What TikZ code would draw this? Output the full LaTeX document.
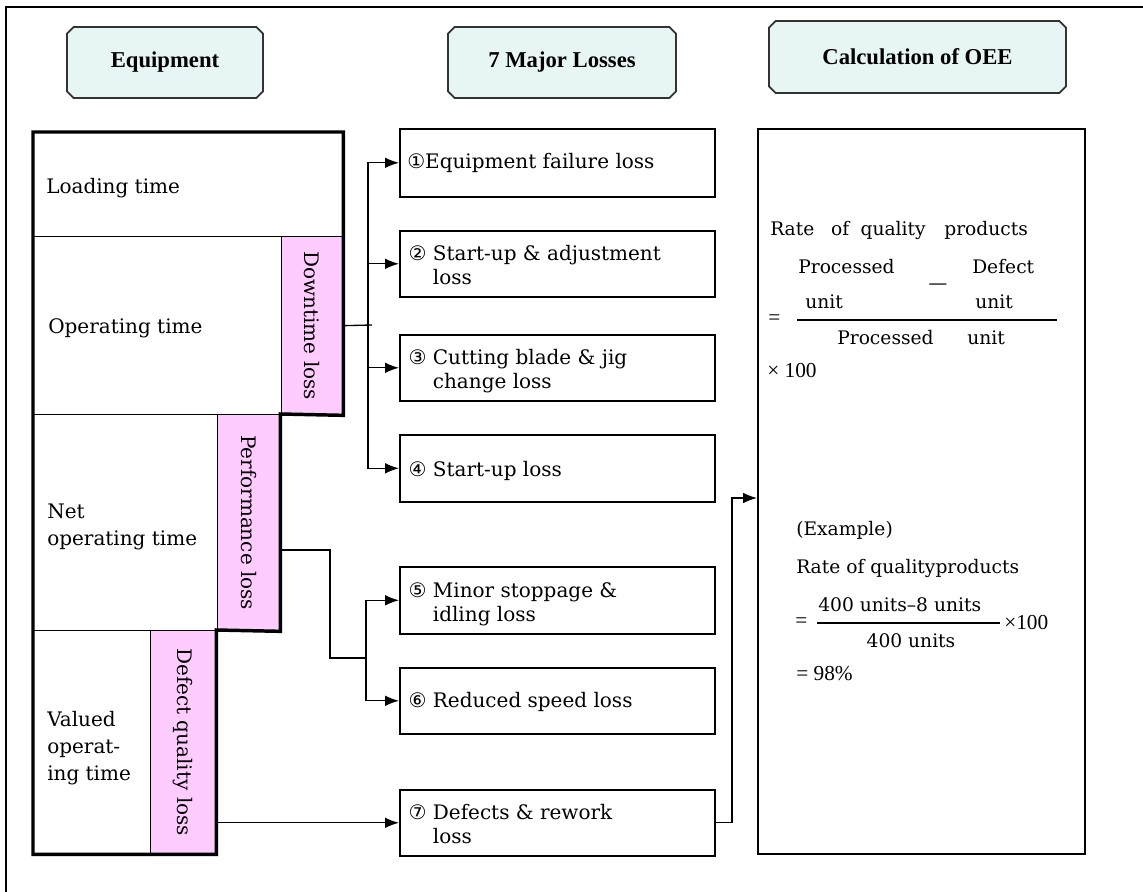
\documentclass[tikz,border=0pt]{standalone}
\usepackage{fontspec}
\setmainfont{DejaVu Serif}
\newfontfamily\headfont{Liberation Serif}
\newfontfamily\numfont{Liberation Serif}
\newfontfamily\circfont{DejaVu Sans}
\usepackage{tikz}
\usetikzlibrary{shapes,arrows,arrows.meta,positioning}
\definecolor{headfill}{RGB}{232,245,245}
\definecolor{losspink}{RGB}{255,204,255}
\newcommand{\pxu}{*0.75pt}
\newcommand{\lossitem}[3]{\begin{tabular}{@{}l@{\ }l@{}}{\circfont #1}&#2\\&#3\end{tabular}}
\newcommand{\lossline}[2]{{\circfont #1}\ #2}

\begin{document}
\begin{tikzpicture}[x=0.75pt,y=-0.75pt,
                >={Latex[length=10.5pt,width=8pt]},
                head/.style={chamfered rectangle,chamfered rectangle xsep=2.5pt,chamfered rectangle ysep=2.5pt,
                  draw=black!80,line width=1.3pt,fill=headfill,font=\headfont\bfseries\fontsize{17}{18}\selectfont},
                cell/.style={draw,line width=1pt,inner sep=0pt,anchor=north west},
                pinkcell/.style={cell,fill=losspink,font=\fontsize{15}{18}\selectfont},
                celltext/.style={anchor=west,inner sep=0pt,align=left,font=\fontsize{15}{20}\selectfont},
                lossbox/.style={draw,line width=1.2pt,inner sep=0pt,anchor=north west,minimum width=315\pxu,minimum height=66\pxu},
                losstext/.style={inner sep=0pt,font=\fontsize{15}{18}\selectfont},
                oeetext/.style={anchor=base west,inner sep=0pt,font=\fontsize{14}{17}\selectfont},
                numtext/.style={oeetext,font=\numfont\fontsize{16}{18}\selectfont},
                conn/.style={line width=1pt}]
  \useasboundingbox (0,0) rectangle (1143,892);
  \draw[line width=1.5pt] (6,892) -- (6,7) -- (1143,7);

  % headings
  \node[head,minimum width=196\pxu,minimum height=71\pxu] (hequip) at (165,62.5) {Equipment};
  \node[head,minimum width=228\pxu,minimum height=71\pxu] (hloss)  at (562,62.5) {7 Major Losses};
  \node[head,minimum width=297\pxu,minimum height=72\pxu] (hoee)   at (917.5,57) {Calculation of OEE};

  % equipment time block
  \node[cell,minimum width=309\pxu,minimum height=104\pxu] (load)    at (33,132)  {};
  \node[cell,minimum width=248\pxu,minimum height=178\pxu] (optime)  at (33,236)  {};
  \node[pinkcell,minimum width=61\pxu,minimum height=178\pxu] (down) at (281,236) {\rotatebox{-90}{Downtime loss}};
  \node[cell,minimum width=184\pxu,minimum height=216\pxu] (nettime) at (33,414)  {};
  \node[pinkcell,minimum width=62\pxu,minimum height=216\pxu] (perf) at (217,414) {\rotatebox{-90}{Performance loss}};
  \node[cell,minimum width=117\pxu,minimum height=223\pxu] (valtime) at (33,630)  {};
  \node[pinkcell,minimum width=65\pxu,minimum height=223\pxu] (defect) at (150,630) {\rotatebox{-90}{Defect quality loss}};
  \draw[line width=2.6pt,line join=miter] (valtime.south west) -- (load.north west) -- (load.north east)
    -- (down.south east) -- (perf.north east) -- (perf.south east) -- (defect.north east)
    -- (defect.south east) -- cycle;

  \node[celltext] (tload) at (46,188) {Loading time};
  \node[celltext] (top)   at (48,328) {Operating time};
  \node[celltext] (tnet)  at (47,527) {Net\\operating time};
  \node[celltext] (tval)  at (47,748) {Valued\\operat-\\ing time};

  % the seven losses
  \node[lossbox,minimum height=68\pxu] (l1) at (399,128) {};
  \node[lossbox] (l2) at (399,230) {};
  \node[lossbox] (l3) at (399,334) {};
  \node[lossbox,minimum height=67\pxu] (l4) at (399,434) {};
  \node[lossbox,minimum height=67\pxu] (l5) at (399,566) {};
  \node[lossbox] (l6) at (399,667) {};
  \node[lossbox] (l7) at (399,789) {};

  \node[losstext,right=6pt of l1.west] (t1) {{\circfont ①}Equipment failure loss};
  \node[losstext,right=7pt of l2.west,yshift=-3pt] (t2) {\lossitem{②}{Start-up \& adjustment}{loss}};
  \node[losstext,right=7pt of l3.west,yshift=-3pt] (t3) {\lossitem{③}{Cutting blade \& jig}{change loss}};
  \node[losstext,right=7pt of l4.west,yshift=-2pt] (t4) {\lossline{④}{Start-up loss}};
  \node[losstext,right=7pt of l5.west,yshift=-3pt] (t5) {\lossitem{⑤}{Minor stoppage \&}{idling loss}};
  \node[losstext,right=7pt of l6.west,yshift=-1pt] (t6) {\lossline{⑥}{Reduced speed loss}};
  \node[losstext,right=7pt of l7.west,yshift=-3pt] (t7) {\lossitem{⑦}{Defects \& rework}{loss}};

  % OEE box
  \node[lossbox,minimum width=327\pxu,minimum height=725\pxu] (oee) at (757,128) {};

  \node[oeetext] (q1) at (770,235) {Rate\hspace{0.9em}of\hspace{0.6em}quality\hspace{1em}products};
  \node[oeetext] (q2) at (798,273) {Processed};
  \node[oeetext] (q3) at (972,273) {Defect};
  \node[oeetext,anchor=center] (q4) at (938,287) {—};
  \node[oeetext] (q5) at (805,308) {unit};
  \node[oeetext] (q6) at (975,308) {unit};
  \node[numtext,anchor=west] (q7) at (768,320) {=};
  \draw[line width=1pt] (797,320) -- (1057,320);
  \node[oeetext] (q8) at (837,344) {Processed};
  \node[oeetext] (q9) at (967,344) {unit};
  \node[numtext] (q10) at (767,377) {× 100};

  \node[oeetext] (e1) at (796,535) {(Example)};
  \node[oeetext] (e2) at (796,573) {Rate of qualityproducts};
  \node[oeetext] (e3) at (818,611) {400 units–8 units};
  \node[numtext,anchor=west] (e4) at (795,623) {=};
  \draw[line width=1pt] (817,623) -- (1000,623);
  \node[numtext] (e5) at (1004,629) {×100};
  \node[oeetext,anchor=base] (e6) at (911,647) {400 units};
  \node[numtext] (e7) at (796,680) {= 98\%};

  % connectors
  \coordinate (dbus) at (368,325);
  \draw[conn] (down.east) -- ([xshift=3pt]dbus);
  \foreach \b in {l1,l2,l3,l4}
    \draw[conn,->] (dbus) |- (\b.west);

  \coordinate (pturn) at (330,550);
  \coordinate (pbus) at (366,658);
  \draw[conn] (perf.east |- pturn) -- (pturn) |- (pbus);
  \foreach \b in {l5,l6}
    \draw[conn,->] (pbus) |- (\b.west);

  \draw[conn,->] (defect.east |- l7.west) -- (l7.west);

  \coordinate (oturn) at (732,498);
  \draw[conn,->] (l7.east) -| (oturn) -- (oee.west |- oturn);
\end{tikzpicture}
\end{document}
